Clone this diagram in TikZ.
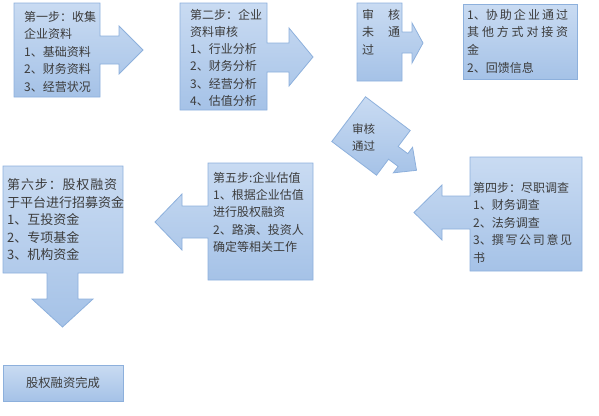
\documentclass[tikz,border=0pt]{standalone}
\usepackage{fontspec}
\newfontfamily\cjk{Noto Sans CJK SC}
\definecolor{ctop}{HTML}{C9DBF2}
\definecolor{cbot}{HTML}{A5C2E7}
\definecolor{cline}{HTML}{8DB0DC}
\definecolor{ctext}{HTML}{3C3C3C}
\newcommand{\spreadline}[2]{\makebox[#1][s]{#2}}
\begin{document}
\begin{tikzpicture}[x=1pt,y=-1pt,
  callout/.style={top color=ctop, bottom color=cbot, draw=cline, line width=0.8pt, line join=miter},
  txt/.style={anchor=north west, inner sep=0pt, align=left, text=ctext, font=\cjk\fontsize{12}{17.5}\selectfont}]
\useasboundingbox (0,0) rectangle (599,415);
% step 1
\path[callout] (14,3) -- (100,3) -- (100,36) -- (119,36) -- (119,26) -- (143,50) -- (119,74) -- (119,64) -- (100,64) -- (100,97) -- (14,97) -- cycle;
\node[txt] (s1) at (24,11) {第一步：收集\\企业资料\\1、基础资料\\2、财务资料\\3、经营状况};
% step 2
\path[callout] (180,3) -- (267,3) -- (267,43) -- (289,43) -- (289,28) -- (313,57) -- (289,86) -- (289,72) -- (267,72) -- (267,110) -- (180,110) -- cycle;
\node[txt, font=\cjk\fontsize{12}{17.2}\selectfont] (s2) at (190,9) {第二步：企业\\资料审核\\1、行业分析\\2、财务分析\\3、经营分析\\4、估值分析};
% not passed
\path[callout] (357,3) -- (402,3) -- (402,32) -- (412,32) -- (412,23) -- (423,43) -- (412,63) -- (412,53) -- (402,53) -- (402,81) -- (357,81) -- cycle;
\node[txt] (s3) at (362,9) {\spreadline{38pt}{审\hfill 核}\\\spreadline{38pt}{未\hfill 通}\\过};
% other channels
\path[callout] (463,4) rectangle (577,79);
\node[txt, font=\cjk\fontsize{12}{17.6}\selectfont] (s3b) at (467,9) {\spreadline{101pt}{1、协\hfill 助\hfill 企\hfill 业\hfill 通\hfill 过}\\\spreadline{101pt}{其\hfill 他\hfill 方\hfill 式\hfill 对\hfill 接\hfill 资}\\金\\2、回馈信息};
% passed (rotated)
\begin{scope}[shift={(371,136)}, rotate=-37]
\path[callout] (-28,-28) -- (28,-28) -- (28,-8) -- (40,-8) -- (40,-16) -- (57,0) -- (40,16) -- (40,8) -- (28,8) -- (28,28) -- (-28,28) -- cycle;
\end{scope}
\node[txt, font=\cjk\fontsize{11.5}{17}\selectfont] (sp) at (352,124) {审核\\通过};
% step 4
\path[callout] (582,157) -- (470,157) -- (470,196) -- (442,196) -- (442,185) -- (414,212.5) -- (442,240) -- (442,229) -- (470,229) -- (470,271) -- (582,271) -- cycle;
\node[txt] (s4) at (473,182) {第四步：尽职调查\\1、财务调查\\2、法务调查\\\spreadline{99pt}{3、撰\hfill 写\hfill 公\hfill 司\hfill 意\hfill 见}\\书};
% step 5
\path[callout] (313,163) -- (208,163) -- (208,206) -- (182,206) -- (182,194) -- (155,222) -- (182,250) -- (182,238) -- (208,238) -- (208,280) -- (313,280) -- cycle;
\node[txt, font=\cjk\fontsize{12}{17.3}\selectfont] (s5) at (213,172) {第五步:企业估值\\\spreadline{90pt}{1、根\hfill 据\hfill 企\hfill 业\hfill 估\hfill 值}\\进行股权融资\\\spreadline{90pt}{2、路\hfill 演\hfill 、\hfill 投\hfill 资\hfill 人}\\确定等相关工作};
% step 6
\path[callout] (3,166) -- (123,166) -- (123,273) -- (78,273) -- (78,299) -- (93,299) -- (62.5,327) -- (32,299) -- (47,299) -- (47,273) -- (3,273) -- cycle;
\node[txt, font=\cjk\fontsize{13}{17.5}\selectfont] (s6) at (7,178.5) {\spreadline{110pt}{第\hfill 六\hfill 步\hfill ：\hfill 股\hfill 权\hfill 融\hfill 资}\\于平台进行招募资金\\1、互投资金\\2、专项基金\\3、机构资金};
% done
\node[callout, minimum width=120pt, minimum height=36pt, inner sep=0pt, text=ctext, font=\cjk\fontsize{12.3}{15}\selectfont] (done) at (63,383) {股权融资完成};
\end{tikzpicture}
\end{document}
